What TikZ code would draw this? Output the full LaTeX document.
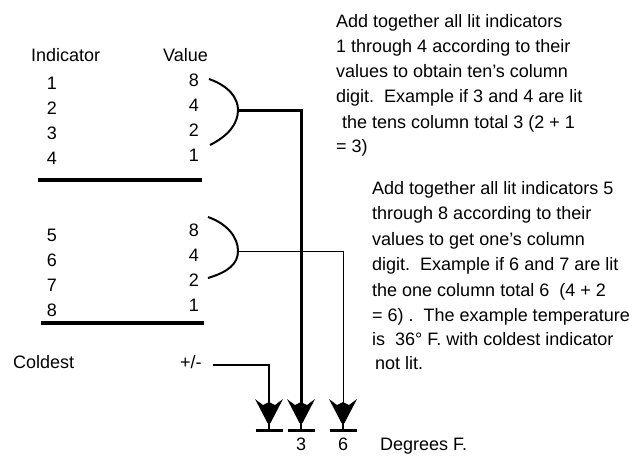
\documentclass[tikz,border=0pt]{standalone}
\usepackage{fontspec}
\setmainfont{Liberation Sans}
\begin{document}
\begin{tikzpicture}[x=1pt,y=-1pt,
  txt/.style={inner sep=0pt,font=\fontsize{18}{25}\selectfont},
  lbl/.style={txt,anchor=base west},
  num/.style={txt,anchor=base},
  val/.style={txt,anchor=base east},
  rulebar/.style={line width=3.5pt},
  brk/.style={line width=2pt},
  heavy/.style={line width=3pt},
  light/.style={line width=1pt},
  arrowhd/.pic={
    \fill (-14,-25) -- (-6,-19) -- (0,-22) -- (6,-19) -- (14,-25) -- (1.5,-1) -- (-1.5,-1) -- cycle;
    \draw[line width=2pt] (0,-2) -- (0,6);
    \draw[line width=3pt] (-13.5,6) -- (13.5,6);
  }]
\useasboundingbox (0,0) rectangle (639,461);
% headers
\node[lbl] (hInd) at (31,61) {Indicator};
\node[lbl] (hVal) at (163,61) {Value};
% upper group
\node[num] (i1) at (52,89) {1};
\node[num] (i2) at (52,114) {2};
\node[num] (i3) at (52,139) {3};
\node[num] (i4) at (52,164) {4};
\node[val] (v1) at (199,86) {8};
\node[val] (v2) at (199,111) {4};
\node[val] (v3) at (199,136) {2};
\node[val] (v4) at (199,161) {1};
\draw[rulebar] (38,180) -- (202,180);
% lower group
\node[num] (i5) at (52,241) {5};
\node[num] (i6) at (52,266) {6};
\node[num] (i7) at (52,291) {7};
\node[num] (i8) at (52,316) {8};
\node[val] (v5) at (199,236) {8};
\node[val] (v6) at (199,261) {4};
\node[val] (v7) at (199,286) {2};
\node[val] (v8) at (199,311) {1};
\draw[rulebar] (41,323) -- (204,323);
% brackets
\coordinate (bt1) at (238,110);
\coordinate (bt2) at (238,251);
\draw[brk] (209,79) .. controls (229,86) and (238,98) .. (bt1) .. controls (238,124) and (228,136) .. (210,145);
\draw[brk] (208,217) .. controls (228,224) and (238,238) .. (bt2) .. controls (238,264) and (228,272) .. (208,278);
% coldest
\node[lbl] (cold) at (13,368) {Coldest};
\node[lbl] (pm) at (180,368) {+/-};
\coordinate (pmline) at (213,365);
% arrow tips
\coordinate (tipA) at (269,424);
\coordinate (tipB) at (301,424);
\coordinate (tipC) at (343,424);
\draw[line width=2.5pt,shorten >=15pt] (pmline) -| (tipA);
\draw[heavy,shorten >=15pt] (bt1) -| (tipB);
\draw[light,shorten >=15pt] (bt2) -| (tipC);
\pic at (tipA) {arrowhd};
\pic at (tipB) {arrowhd};
\pic at (tipC) {arrowhd};
\node[num] (d1) at (301,450) {3};
\node[num] (d2) at (343,450) {6};
\node[lbl] (deg) at (380,450) {Degrees F.};
% explanatory texts
\node[lbl] (a1) at (336,27) {Add together all lit indicators};
\node[lbl] (a2) at (336,52) {1 through 4 according to their};
\node[lbl] (a3) at (336,77) {values to obtain ten's column};
\node[lbl] (a4) at (336,102) {digit.\ \ Example if 3 and 4 are lit};
\node[lbl] (a5) at (342,128) {the tens column total 3 (2 + 1};
\node[lbl] (a6) at (336,152) {= 3)};
\node[lbl] (b1) at (372,194) {Add together all lit indicators 5};
\node[lbl] (b2) at (372,219) {through 8 according to their};
\node[lbl] (b3) at (372,245) {values to get one's column};
\node[lbl] (b4) at (372,270) {digit.\ \ Example if 6 and 7 are lit};
\node[lbl] (b5) at (372,296) {the one column total 6\ \ (4 + 2};
\node[lbl] (b6) at (372,321) {= 6) .\ \ The example temperature};
\node[lbl] (b7) at (372,345) {is\ \ 36° F. with coldest indicator};
\node[lbl] (b8) at (375,369) {not lit.};
\end{tikzpicture}
\end{document}
